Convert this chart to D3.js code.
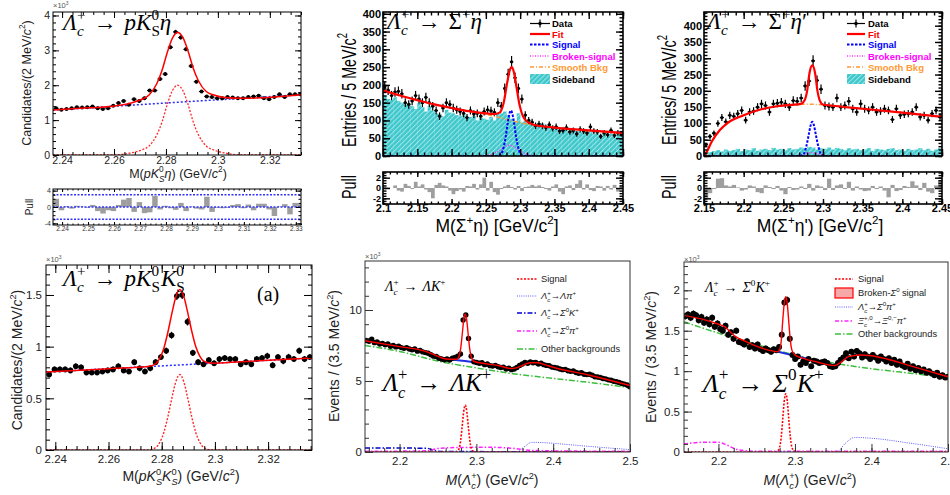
<!DOCTYPE html>
<html>
<head>
<meta charset="utf-8">
<script src="https://cdn.jsdelivr.net/npm/d3@7"></script>
<style>
  body { margin: 0; background: #fff; }
  svg { display: block; background: #fff; }
</style>
</head>
<body>
<svg id="chart" width="950" height="495"></svg>
<script>
// ---------------- data: Λc+ → p K0S η (counts ×10³, 2 MeV bins) ----------------
const pKsEtaLow = 2.2367, pKsEtaBin = 0.002;
const pKsEtaCounts = [1.34,1.30,1.32,1.34,1.37,1.36,1.37,1.39,1.34,1.32,1.34,1.41,1.49,1.55,1.44,1.60,1.55,1.63,1.85,1.85,2.18,2.32,3.09,3.53,3.37,3.03,2.55,2.10,1.82,1.68,1.66,1.63,1.63,1.66,1.65,1.63,1.63,1.66,1.68,1.70,1.63,1.60,1.66,1.74,1.66,1.74,1.74,1.74];
const pKsEtaPull = [2.0,-0.8,0.2,-0.4,0.3,0.1,-0.2,0.5,-1.0,-1.6,-0.8,-1.0,0.5,1.8,2.2,-1.2,1.2,-1.5,-1.3,2.7,-0.6,0.3,-0.3,-0.7,1.0,-1.0,0.1,-0.4,-0.6,2.5,-1.2,-0.2,-0.3,-0.2,0.5,0.7,-0.3,0.6,-0.8,0.8,0.8,-0.6,-2.2,0.1,0.7,-1.8,1.0,0.7];
const pKsEtaFit = [[2.2365,1.29],[2.25,1.352],[2.2595,1.396],[2.2665,1.49],[2.2705,1.59],[2.2735,1.72],[2.2765,2.05],[2.2785,2.43],[2.2805,2.94],[2.2825,3.35],[2.2845,3.51],[2.2865,3.37],[2.2885,2.98],[2.2905,2.49],[2.2925,2.13],[2.2955,1.82],[2.2985,1.72],[2.3025,1.65],[2.3095,1.626],[2.332,1.73]];
const pKsEtaBkg = [[2.2365,1.29],[2.332,1.73]];
const pKsEtaSig = [[2.2365,0],[2.2595,0],[2.2665,0.06],[2.2705,0.14],[2.2735,0.26],[2.2765,0.58],[2.2785,0.95],[2.2805,1.45],[2.2825,1.85],[2.2845,2.0],[2.2865,1.85],[2.2885,1.45],[2.2905,0.95],[2.2925,0.58],[2.2955,0.26],[2.2985,0.14],[2.3025,0.06],[2.3095,0],[2.332,0]];
const pKsEtaXTicks = [2.24,2.26,2.28,2.30,2.32], pKsEtaXLabels = ['2.24','2.26','2.28','2.3','2.32'];
const pKsEtaYTicks = [0,1,2,3,4], pKsEtaYLabels = ['0','1','2','3','4'];
const pullAXTicks = [2.24,2.25,2.26,2.27,2.28,2.29,2.30,2.31,2.32,2.33];
const pullAXLabels = ['2.24','2.25','2.26','2.27','2.28','2.29','2.3','2.31','2.32','2.33'];
const pullAYTicks = [-4,0,4], pullAYLabels = ['-4','0','4'];
const pullALines = [-3,0,3];

// ---------------- data: Λc+ → Σ+ η (entries, 5 MeV bins) ----------------
const sigEtaLow = 2.1, sigEtaBin = 0.005;
const sigEtaCounts = [195,185,170,180,182,175,150,145,155,170,160,150,165,150,140,128,112,135,150,145,135,130,125,120,108,128,118,120,112,125,130,127,123,150,140,190,230,265,220,190,160,115,100,95,85,90,85,80,88,78,82,70,72,80,68,72,62,75,70,65,82,70,68,55,65,60,72,58,65,62];
const sigEtaSideband = [172,160,158,165,155,150,145,148,140,132,150,138,125,140,128,120,118,112,130,122,120,115,112,118,105,110,112,100,108,105,102,110,100,118,120,125,115,105,98,120,95,100,92,88,90,85,92,80,85,78,82,75,80,76,72,78,70,68,72,65,70,62,66,60,64,58,62,55,60,58];
const sigEtaPull = [0.3,0.1,0,0.5,-0.5,-0.7,0.8,0.4,-0.2,1.2,0.3,0.7,-0.3,-0.8,-2.0,0.6,1.0,0.5,0.3,-0.5,-1.2,-0.6,-0.3,-0.7,0.4,0.3,0.8,-0.3,0.7,2.0,-0.5,1.2,-0.8,-1.3,-0.2,0.3,0.6,0.2,-0.3,0.4,-0.6,0.2,0.3,0.6,0.3,0.5,0.2,-0.2,-0.5,0.3,0.7,-0.7,-1.2,0.3,0.5,-0.4,0.8,1.5,-0.3,0.7,-0.4,-0.6,0.4,0.3,-0.5,0.4,-0.3,0.6,-0.7,0.5];
const sigEtaFit = [[2.1,185],[2.125,170],[2.15,157],[2.175,145],[2.2,135],[2.225,126],[2.25,120],[2.262,118],[2.27,122],[2.276,150],[2.281,205],[2.2855,245],[2.288,250],[2.291,235],[2.295,190],[2.299,145],[2.304,112],[2.31,97],[2.32,88],[2.35,80],[2.4,72],[2.45,65]];
const sigEtaSmooth = [[2.1,185],[2.15,157],[2.2,135],[2.25,117],[2.27,108],[2.29,98],[2.31,90],[2.33,84],[2.35,79],[2.4,71],[2.45,64]];
const sigEtaSignal = [[2.1,0],[2.265,0],[2.272,5],[2.276,25],[2.279,55],[2.282,95],[2.2845,120],[2.2865,128],[2.2885,120],[2.291,95],[2.294,55],[2.297,25],[2.301,5],[2.308,0],[2.45,0]];
const sigEtaBroken = [[2.1,0],[2.24,0],[2.255,3],[2.265,10],[2.275,22],[2.283,30],[2.29,27],[2.298,17],[2.308,6],[2.318,1],[2.33,0],[2.45,0]];
const sigEtaXTicks = [2.1,2.15,2.2,2.25,2.3,2.35,2.4,2.45];
const sigEtaXLabels = ['2.1','2.15','2.2','2.25','2.3','2.35','2.4','2.45'];

// ---------------- data: Λc+ → Σ+ η′ (entries, 5 MeV bins) ----------------
const sigEtapLow = 2.15, sigEtapBin = 0.005;
const sigEtapCounts = [35,60,70,100,118,105,125,122,130,140,110,135,138,150,160,155,135,160,162,165,160,150,170,168,178,215,230,292,232,205,155,152,150,178,150,155,168,145,135,160,145,140,150,135,138,145,140,112,145,125,128,130,135,150,120,125,110,130,140,120];
const sigEtapSideband = [8,12,15,18,14,20,16,18,22,15,20,18,24,16,20,22,18,25,20,22,18,24,20,22,26,24,28,26,20,24,22,26,20,25,22,18,24,20,22,18,20,24,16,22,20,18,22,24,18,20,16,22,18,20,24,18,22,16,20,24];
const sigEtapPull = [-2.0,-1.0,-0.2,1.8,1.9,0.5,0.3,0.6,0.1,-0.5,-0.3,0.5,0.3,-0.8,-1.0,0.5,0.2,-0.2,0.4,-0.5,-1.2,0.2,-0.4,-0.3,0.3,-0.2,0.8,-0.5,0.5,0.3,-0.4,1.8,-0.4,0.5,0.7,-0.2,1.2,-0.5,0.3,-0.3,-0.6,-0.5,0.4,-0.2,0.3,-0.5,-1.8,0.6,-0.6,-0.4,0.4,0.2,1.3,0.5,-0.4,1.0,-0.7,-1.0,0.5,1.5];
const sigEtapFit = [[2.151,0],[2.155,20],[2.16,45],[2.17,80],[2.18,102],[2.2,125],[2.22,142],[2.24,152],[2.26,157],[2.272,160],[2.277,172],[2.28,200],[2.283,255],[2.2865,278],[2.29,255],[2.293,200],[2.296,170],[2.3,158],[2.31,155],[2.35,145],[2.4,133],[2.45,120]];
const sigEtapSmooth = [[2.151,0],[2.155,20],[2.16,45],[2.17,80],[2.18,102],[2.2,125],[2.22,142],[2.24,152],[2.26,157],[2.28,159],[2.3,157],[2.35,145],[2.4,133],[2.45,120]];
const sigEtapSignal = [[2.15,0],[2.27,0],[2.276,8],[2.279,30],[2.282,65],[2.2845,95],[2.2865,105],[2.2885,95],[2.291,65],[2.294,30],[2.297,8],[2.303,0],[2.45,0]];
const sigEtapBroken = [[2.15,0],[2.26,0],[2.275,5],[2.285,10],[2.295,6],[2.31,0],[2.45,0]];
const sigEtapXTicks = [2.15,2.2,2.25,2.3,2.35,2.4,2.45];
const sigEtapXLabels = ['2.15','2.2','2.25','2.3','2.35','2.4','2.45'];
const entriesYTicks = [0,50,100,150,200,250,300,350,400];
const entriesYLabels = ['0','50','100','150','200','250','300','350','400'];
const pullYTicks = [-2,0,2], pullYLabels = ['-2','0','2'];

// ---------------- data: Λc+ → p K0S K0S (counts ×10³, 2 MeV bins) ----------------
const pKsKsLow = 2.2367, pKsKsBin = 0.002;
const pKsKsCounts = [0.73,0.78,0.78,0.78,0.77,0.81,0.80,0.75,0.75,0.75,0.76,0.77,0.78,0.81,0.77,0.76,0.85,0.79,0.76,0.79,0.85,0.90,0.96,1.11,1.49,1.50,1.24,0.94,0.85,0.83,0.87,0.84,0.88,0.89,0.88,0.88,0.83,0.85,0.83,0.88,0.89,0.91,0.82,0.90,0.86,0.90,0.88,0.96,0.88,0.90];
const pKsKsFit = [[2.2365,0.755],[2.26,0.787],[2.2748,0.807],[2.2778,0.836],[2.2793,0.888],[2.2808,0.985],[2.2823,1.137],[2.2838,1.319],[2.2853,1.481],[2.2868,1.553],[2.2883,1.485],[2.2898,1.327],[2.2913,1.149],[2.2928,1.001],[2.2943,0.908],[2.2958,0.86],[2.2988,0.839],[2.31,0.854],[2.3365,0.89]];
const pKsKsBkg = [[2.2365,0.755],[2.3365,0.89]];
const pKsKsSig = [[2.2365,0],[2.2748,0],[2.2778,0.025],[2.2793,0.075],[2.2808,0.17],[2.2823,0.32],[2.2838,0.50],[2.2853,0.66],[2.2868,0.73],[2.2883,0.66],[2.2898,0.50],[2.2913,0.32],[2.2928,0.17],[2.2943,0.075],[2.2958,0.025],[2.2988,0],[2.3365,0]];
const pKsKsYTicks = [0,0.5,1,1.5], pKsKsYLabels = ['0','0.5','1','1.5'];

// ---------------- data: Λc+ → Λ K+ (events ×10³, 3.5 MeV bins) ----------------
const lamKLow = 2.155, lamKBin = 0.0035;
const lamKCounts = [7.85,7.80,7.95,7.70,7.75,7.60,7.65,7.55,7.60,7.45,7.50,7.40,7.45,7.35,7.30,7.35,7.25,7.20,7.25,7.10,7.15,7.05,7.00,6.95,6.85,6.75,6.72,6.60,6.55,6.50,6.55,6.48,6.60,6.65,6.75,6.9,9.3,9.65,8.0,6.75,6.35,6.30,6.25,6.28,6.15,6.20,6.08,6.05,6.10,6.0,5.95,5.98,5.85,5.90,5.80,5.85,5.95,6.1,6.2,6.3,6.25,6.35,6.28,6.3,6.2,6.25,6.15,6.1,6.08,5.98,5.95,5.92,5.85,5.80,5.82,5.72,5.68,5.70,5.60,5.55,5.58,5.48,5.45,5.48,5.40,5.30,5.28,5.25,5.18,5.15,5.08,5.05,4.98,4.95,4.90,4.82,4.78,4.72,4.60];
const lamKFit = [[2.155,7.83],[2.2,7.42],[2.235,7.07],[2.245,6.85],[2.255,6.62],[2.265,6.53],[2.2745,6.53],[2.2775,6.76],[2.2795,7.26],[2.2815,8.24],[2.2835,9.29],[2.2855,9.73],[2.2875,9.27],[2.2895,8.19],[2.2915,7.19],[2.2935,6.65],[2.2965,6.39],[2.31,6.23],[2.33,6.07],[2.345,5.88],[2.352,5.92],[2.36,6.1],[2.37,6.28],[2.38,6.28],[2.39,6.13],[2.4,5.97],[2.45,5.37],[2.5,4.68]];
const lamKTotBkg = [[2.255,6.6],[2.27,6.5],[2.29,6.38],[2.31,6.22],[2.33,6.07]];
const lamKSignal = [[2.155,0],[2.2745,0],[2.2775,0.25],[2.2795,0.8],[2.2815,1.8],[2.2835,2.85],[2.2855,3.3],[2.2875,2.85],[2.2895,1.8],[2.2915,0.8],[2.2935,0.25],[2.2965,0.03],[2.301,0],[2.5,0]];
const lamKLamPi = [[2.155,0],[2.352,0],[2.362,0.35],[2.372,0.68],[2.39,0.65],[2.42,0.52],[2.45,0.38],[2.48,0.25],[2.5,0.17]];
const lamKSig0K = [[2.155,0.28],[2.235,0.27],[2.245,0.1],[2.26,0.03],[2.5,0.02]];
const lamKSig0Pi = [[2.155,0.05],[2.235,0.08],[2.25,0.25],[2.28,0.32],[2.32,0.33],[2.35,0.25],[2.37,0.12],[2.4,0.08],[2.5,0.05]];
const lamKOther = [[2.155,7.5],[2.2,7.08],[2.25,6.4],[2.3,5.92],[2.35,5.5],[2.4,5.18],[2.45,4.88],[2.5,4.53]];
const lamKYTicks = [0,5,10], lamKYLabels = ['0','5','10'];

// ---------------- data: Λc+ → Σ0 K+ (events ×10³, 3.5 MeV bins) ----------------
const sig0KLow = 2.155, sig0KBin = 0.0035;
const sig0KCounts = [1.68,1.70,1.66,1.71,1.69,1.63,1.67,1.60,1.64,1.58,1.66,1.55,1.59,1.52,1.50,1.56,1.45,1.48,1.40,1.50,1.36,1.35,1.33,1.37,1.30,1.32,1.28,1.33,1.27,1.25,1.28,1.26,1.24,1.27,1.26,1.30,1.45,1.85,1.88,1.40,1.20,1.15,1.18,1.08,1.12,1.10,1.15,1.06,1.13,1.12,1.10,1.11,1.12,1.10,1.06,1.05,1.06,1.10,1.14,1.17,1.22,1.16,1.24,1.18,1.25,1.22,1.17,1.21,1.18,1.15,1.20,1.17,1.13,1.18,1.15,1.12,1.16,1.10,1.14,1.08,1.12,1.07,1.05,1.09,1.03,1.06,1.01,1.04,1.00,1.02,0.98,1.00,0.97,0.95,0.98,0.93,0.95,0.92,0.93];
const sig0KFit = [[2.155,1.69],[2.18,1.64],[2.2,1.58],[2.208,1.55],[2.215,1.49],[2.222,1.43],[2.235,1.37],[2.255,1.29],[2.27,1.25],[2.277,1.24],[2.28,1.27],[2.282,1.37],[2.284,1.62],[2.286,1.84],[2.288,1.92],[2.29,1.83],[2.292,1.6],[2.294,1.38],[2.296,1.26],[2.3,1.2],[2.31,1.16],[2.33,1.11],[2.352,1.07],[2.36,1.11],[2.37,1.18],[2.385,1.2],[2.4,1.19],[2.42,1.15],[2.46,1.04],[2.5,0.93]];
const sig0KTotBkg = [[2.255,1.29],[2.3,1.19],[2.352,1.07]];
const sig0KSignal = [[2.155,0],[2.273,0],[2.277,0.01],[2.28,0.06],[2.282,0.18],[2.284,0.4],[2.286,0.63],[2.288,0.72],[2.29,0.63],[2.292,0.4],[2.294,0.18],[2.296,0.06],[2.299,0.01],[2.303,0],[2.5,0]];
const sig0KSig0Pi = [[2.155,0],[2.355,0],[2.365,0.1],[2.378,0.18],[2.4,0.17],[2.45,0.11],[2.5,0.04]];
const sig0KXic = [[2.155,0.1],[2.18,0.12],[2.2,0.12],[2.21,0.09],[2.225,0.03],[2.25,0.01],[2.5,0.01]];
const sig0KOther = [[2.155,1.61],[2.2,1.47],[2.25,1.33],[2.3,1.2],[2.35,1.1],[2.4,1.03],[2.45,0.975],[2.5,0.92]];
const sig0KYTicks = [0,0.5,1,1.5,2], sig0KYLabels = ['0','0.5','1','1.5','2'];
const lamXTicks = [2.2,2.3,2.4,2.5], lamXLabels = ['2.2','2.3','2.4','2.5'];

// ---------------- drawing helpers ----------------
const SANS = "'Liberation Sans', Arial, Helvetica, sans-serif";
const SERIF = "'Liberation Serif', 'Times New Roman', serif";
const svg = d3.select('#chart');
const defs = svg.append('defs');
let clipCount = 0;

const hatch = defs.append('pattern').attr('id', 'hatch').attr('patternUnits', 'userSpaceOnUse')
  .attr('width', 3.5).attr('height', 3.5).attr('patternTransform', 'rotate(45)');
hatch.append('rect').attr('width', 3.5).attr('height', 3.5).attr('fill', '#3fc7cc');
hatch.append('line').attr('x1', 0.5).attr('y1', 0).attr('x2', 0.5).attr('y2', 3.5)
  .attr('stroke', '#9be6e6').attr('stroke-width', 1);

function panel(box, xd, yd) {
  const [x0, y0, x1, y1] = box;
  const sx = d3.scaleLinear().domain(xd).range([x0, x1]);
  const sy = d3.scaleLinear().domain(yd).range([y1, y0]);
  const id = 'clip' + (clipCount++);
  defs.append('clipPath').attr('id', id).append('rect')
    .attr('x', x0).attr('y', y0).attr('width', x1 - x0).attr('height', y1 - y0);
  const g = svg.append('g');
  const plot = g.append('g').attr('clip-path', `url(#${id})`);
  const over = g.append('g');
  return { g, plot, over, sx, sy, x0, y0, x1, y1 };
}

function centers(low, w, n) { return d3.range(n).map(i => low + (i + 0.5) * w); }

function minorVals(dom, step) {
  const lo = Math.ceil(dom[0] / step - 1e-6), hi = Math.floor(dom[1] / step + 1e-6);
  return d3.range(lo, hi + 1).map(k => +(k * step).toFixed(6));
}

function axes(p, o) {
  const stroke = o.stroke || '#000', sw = o.sw || 1;
  const specs = [
    ['x', d3.axisBottom, p.y1, d3.axisTop, p.y0, p.sx],
    ['y', d3.axisLeft, p.x0, d3.axisRight, p.x1, p.sy]
  ];
  for (const [k, mk, pos, mkM, posM, sc] of specs) {
    const s = o[k];
    if (!s) continue;
    const tr = v => k === 'x' ? `translate(0,${v})` : `translate(${v},0)`;
    const groups = [];
    const main = p.over.append('g').attr('transform', tr(pos))
      .call(mk(sc).tickValues(s.maj).tickSize(-s.len).tickPadding(s.pad || 3)
        .tickFormat((d, i) => s.labels ? s.labels[i] : ''));
    groups.push(main);
    groups.push(p.over.append('g').attr('transform', tr(pos))
      .call(mk(sc).tickValues(minorVals(sc.domain(), s.step)).tickSize(-s.mlen).tickFormat('')));
    if (o.mirror) {
      groups.push(p.over.append('g').attr('transform', tr(posM))
        .call(mkM(sc).tickValues(s.maj).tickSize(-s.len).tickFormat('')));
      groups.push(p.over.append('g').attr('transform', tr(posM))
        .call(mkM(sc).tickValues(minorVals(sc.domain(), s.step)).tickSize(-s.mlen).tickFormat('')));
    }
    groups.forEach(gg => {
      gg.select('.domain').remove();
      gg.selectAll('line').attr('stroke', stroke).attr('stroke-width', sw);
    });
    main.selectAll('text').attr('font-family', SANS).attr('font-size', s.size)
      .attr('font-weight', s.weight || 'normal').attr('fill', s.fill || '#000');
  }
  p.over.append('rect').attr('x', p.x0).attr('y', p.y0)
    .attr('width', p.x1 - p.x0).attr('height', p.y1 - p.y0)
    .attr('fill', 'none').attr('stroke', stroke).attr('stroke-width', o.fw || sw);
}

function curve(p, pts, o) {
  p.plot.append('path').datum(pts)
    .attr('d', d3.line().x(d => p.sx(d[0])).y(d => p.sy(d[1])).curve(d3.curveMonotoneX))
    .attr('fill', 'none').attr('stroke', o.c).attr('stroke-width', o.w)
    .attr('stroke-dasharray', o.dash || null);
}

function drawData(p, xs, ys, o) {
  const gd = p.plot.append('g').attr('stroke', '#000').attr('stroke-width', o.sw || 1);
  xs.forEach((x, i) => {
    const y = ys[i], e = o.err[i];
    gd.append('line').attr('x1', p.sx(x)).attr('x2', p.sx(x)).attr('y1', p.sy(y - e)).attr('y2', p.sy(y + e));
    if (o.halfW) gd.append('line').attr('x1', p.sx(x - o.halfW)).attr('x2', p.sx(x + o.halfW))
      .attr('y1', p.sy(y)).attr('y2', p.sy(y));
  });
  p.plot.append('g').selectAll('circle').data(xs).join('circle')
    .attr('cx', d => p.sx(d)).attr('cy', (d, i) => p.sy(ys[i])).attr('r', o.r).attr('fill', '#000');
}

function bars(p, low, w, vals, fill) {
  p.plot.append('g').selectAll('rect').data(vals).join('rect')
    .attr('x', (d, i) => p.sx(low + i * w))
    .attr('width', (d, i) => p.sx(low + (i + 1) * w) - p.sx(low + i * w) + 0.3)
    .attr('y', d => Math.min(p.sy(d), p.sy(0)))
    .attr('height', d => Math.abs(p.sy(d) - p.sy(0)))
    .attr('fill', fill);
}

// text built from pieces: plain strings, {t, i} runs, {sup, sub} script stacks, {gap} spacing (em)
function rich(parent, parts, o) {
  const size = o.size, fam = o.family || SANS;
  const g = parent.append('g');
  const inner = g.append('g');
  let cx = 0;
  const put = (t, x, y, sz, it) => {
    const el = inner.append('text').attr('x', x).attr('y', y).text(t)
      .attr('font-family', fam).attr('font-size', sz)
      .attr('font-style', it ? 'italic' : 'normal')
      .attr('font-weight', o.weight || 'normal')
      .attr('fill', o.fill || '#000');
    return el.node().getComputedTextLength();
  };
  for (const p of parts) {
    if (typeof p === 'string') cx += put(p, cx, 0, size, o.italic);
    else if (p.gap !== undefined) cx += p.gap * size;
    else if (p.t !== undefined) cx += put(p.t, cx, 0, size, p.i);
    else {
      const ss = size * 0.66;
      let w = 0;
      if (p.sup !== undefined) w = Math.max(w, put(p.sup, cx, -size * 0.45, ss, p.supi));
      if (p.sub !== undefined) w = Math.max(w, put(p.sub, cx, size * 0.28, ss, p.si));
      cx += w;
    }
  }
  const shift = o.anchor === 'middle' ? -cx / 2 : o.anchor === 'end' ? -cx : 0;
  inner.attr('transform', `translate(${shift},0)`);
  g.attr('transform', `translate(${o.x},${o.y})` + (o.rot ? ` rotate(${o.rot})` : '') +
    (o.stretch ? ` scale(${o.stretch},1)` : ''));
  return cx;
}

const LcPlus = [{ t: 'Λ', i: 1 }, { sub: 'c', si: 1, sup: '+' }];
const arrow = [{ gap: 0.35 }, { t: '→' }, { gap: 0.35 }];
const times1000 = [{ t: '×10' }, { sup: '3' }];
const GREY = '#9e9e9e';

// ================= top left: pK0S η =================
const pA = panel([53, 12, 301, 155], [2.2365, 2.332], [0, 4.1]);
curve(pA, pKsEtaBkg, { c: '#2a2aff', w: 1.5, dash: '2,2' });
curve(pA, pKsEtaSig, { c: '#ff2a2a', w: 1.3, dash: '2,1.6' });
drawData(pA, centers(pKsEtaLow, pKsEtaBin, pKsEtaCounts.length), pKsEtaCounts,
  { r: 2, halfW: pKsEtaBin / 2, err: pKsEtaCounts.map(v => Math.sqrt(v * 1000) / 1000) });
curve(pA, pKsEtaFit, { c: '#ff0000', w: 1.5 });
axes(pA, {
  mirror: true,
  x: { maj: pKsEtaXTicks, labels: pKsEtaXLabels, step: 0.004, len: 6, mlen: 3, pad: 2, size: 10.5, fill: '#222' },
  y: { maj: pKsEtaYTicks, labels: pKsEtaYLabels, step: 0.2, len: 6, mlen: 3, pad: 3, size: 10.5, fill: '#222' }
});
rich(svg, times1000, { x: 53, y: 8, size: 7.5, fill: '#555' });
rich(svg, [...LcPlus, ...arrow, { t: 'pK', i: 1 }, { sup: '0', sub: 'S' }, { t: 'η', i: 1 }],
  { x: 63, y: 30, size: 23, family: SERIF });
rich(svg, ['M(', { t: 'pK', i: 1 }, { sup: '0', sub: 'S', si: 1 }, { t: 'η', i: 1 }, ')', { gap: 0.28 }, '(GeV/', { t: 'c', i: 1 }, { sup: '2' }, ')'],
  { x: 178, y: 178, size: 12.5, anchor: 'middle', fill: '#222' });
rich(svg, ['Candidates/(2 MeV/', { t: 'c', i: 1 }, { sup: '2' }, ')'],
  { x: 31, y: 83, size: 12.5, anchor: 'middle', rot: -90, fill: '#222' });

const pAP = panel([53, 189, 301, 225], [2.2365, 2.332], [-4.4, 4.4]);
bars(pAP, pKsEtaLow, pKsEtaBin, pKsEtaPull, GREY);
pullALines.forEach(v => curve(pAP, [[2.2365, v], [2.332, v]], { c: '#3333ff', w: 1.5, dash: '2,1.5' }));
axes(pAP, {
  mirror: true,
  x: { maj: pullAXTicks, labels: pullAXLabels, step: 0.002, len: 3, mlen: 1.5, pad: 1.5, size: 6.5, fill: '#333' },
  y: { maj: pullAYTicks, labels: pullAYLabels, step: 1, len: 5, mlen: 2.5, pad: 2, size: 7, fill: '#333' }
});
rich(svg, ['Pull'], { x: 33, y: 207, size: 10, anchor: 'middle', rot: -90, fill: '#222' });

// ================= Σ+ η and Σ+ η′ panels with pulls =================
function topPanel(cfg) {
  const p = panel(cfg.box, cfg.xd, cfg.yd);
  bars(p, cfg.low, cfg.bin, cfg.side, 'url(#hatch)');
  drawData(p, centers(cfg.low, cfg.bin, cfg.counts.length), cfg.counts,
    { r: 1.6, halfW: cfg.bin / 2, err: cfg.counts.map(v => Math.sqrt(v)), sw: 1.2 });
  curve(p, cfg.smooth, { c: '#ff9933', w: 1.5, dash: '4,2,1,2' });
  curve(p, cfg.broken, { c: '#ff33ff', w: 1.5, dash: '1,1.5' });
  curve(p, cfg.signal, { c: '#0000ff', w: 2, dash: '2.5,1.5' });
  curve(p, cfg.fit, { c: '#ff0000', w: 2.2 });
  axes(p, {
    mirror: true, sw: 1.4, fw: 1.6,
    x: { maj: cfg.xTicks, labels: null, step: 0.01, len: 7, mlen: 3.5 },
    y: { maj: entriesYTicks, labels: entriesYLabels, step: 10, len: 7, mlen: 3.5, pad: 2, size: 11, weight: 'bold' }
  });
  const pp = panel(cfg.pbox, cfg.xd, [-3.1, 3.1]);
  bars(pp, cfg.low, cfg.bin, cfg.pull, GREY);
  axes(pp, {
    mirror: true, sw: 1.4, fw: 1.6,
    x: { maj: cfg.xTicks, labels: cfg.xLabels, step: 0.01, len: 5, mlen: 2.5, pad: 0.6, size: 11, weight: 'bold' },
    y: { maj: pullYTicks, labels: pullYLabels, step: 0.5, len: 7, mlen: 3.5, pad: 2, size: 9, weight: 'bold' }
  });
  rich(svg, cfg.title, { x: cfg.titleX, y: 29, size: 23, family: SERIF });
  rich(svg, cfg.xTitle, { x: cfg.xTitleX, y: 231.5, size: 17.5, anchor: 'middle' });
  rich(svg, cfg.yTitle, { x: cfg.yTitleX, y: 90, size: 21, anchor: 'middle', rot: -90, stretch: 0.68 });
  rich(svg, ['Pull'], { x: cfg.yTitleX, y: 187, size: 21, anchor: 'middle', rot: -90, stretch: 0.68 });
  // legend
  const L = cfg.leg, rows = [23.5, 34, 44.5, 56, 67, 79];
  const lg = svg.append('g');
  lg.append('line').attr('x1', L[0]).attr('x2', L[1]).attr('y1', rows[0]).attr('y2', rows[0]).attr('stroke', '#000').attr('stroke-width', 1.2);
  lg.append('line').attr('x1', (L[0] + L[1]) / 2).attr('x2', (L[0] + L[1]) / 2).attr('y1', rows[0] - 4).attr('y2', rows[0] + 4).attr('stroke', '#000').attr('stroke-width', 1.2);
  lg.append('circle').attr('cx', (L[0] + L[1]) / 2).attr('cy', rows[0]).attr('r', 1.8).attr('fill', '#000');
  const ls = [['#ff0000', 2.2, null], ['#0000ff', 2, '2.5,1.5'], ['#ff33ff', 1.5, '1,1.5'], ['#ff9933', 1.5, '4,2,1,2']];
  ls.forEach((s, k) => lg.append('line').attr('x1', L[0]).attr('x2', L[1]).attr('y1', rows[k + 1]).attr('y2', rows[k + 1])
    .attr('stroke', s[0]).attr('stroke-width', s[1]).attr('stroke-dasharray', s[2]));
  lg.append('rect').attr('x', L[0]).attr('y', rows[5] - 5).attr('width', L[1] - L[0]).attr('height', 10).attr('fill', 'url(#hatch)');
  const names = ['Data', 'Fit', 'Signal', 'Broken-signal', 'Smooth Bkg', 'Sideband'];
  const cols = ['#000', '#ff0000', '#0000ff', '#ff00ff', '#ff9933', '#000'];
  names.forEach((n, k) => lg.append('text').attr('x', L[2]).attr('y', rows[k] + 3.5).text(n)
    .attr('font-family', SANS).attr('font-size', 9.5).attr('font-weight', 'bold').attr('fill', cols[k]));
}

topPanel({
  box: [383, 12, 623, 156], pbox: [383, 172, 623, 204], xd: [2.1, 2.45], yd: [0, 405],
  low: sigEtaLow, bin: sigEtaBin, counts: sigEtaCounts, side: sigEtaSideband, pull: sigEtaPull,
  fit: sigEtaFit, smooth: sigEtaSmooth, signal: sigEtaSignal, broken: sigEtaBroken,
  xTicks: sigEtaXTicks, xLabels: sigEtaXLabels,
  title: [...LcPlus, ...arrow, { t: 'Σ' }, { sup: '+' }, { t: 'η', i: 1 }], titleX: 387,
  xTitle: ['M(Σ', { sup: '+' }, 'η)', { gap: 0.28 }, '[GeV/c', { sup: '2' }, ']'], xTitleX: 497,
  yTitle: ['Entries / 5 MeV/c', { sup: '2' }], yTitleX: 356,
  leg: [530, 550, 552]
});
topPanel({
  box: [704, 12, 942, 156], pbox: [704, 172, 942, 204], xd: [2.15, 2.45], yd: [0, 442],
  low: sigEtapLow, bin: sigEtapBin, counts: sigEtapCounts, side: sigEtapSideband, pull: sigEtapPull,
  fit: sigEtapFit, smooth: sigEtapSmooth, signal: sigEtapSignal, broken: sigEtapBroken,
  xTicks: sigEtapXTicks, xLabels: sigEtapXLabels,
  title: [...LcPlus, ...arrow, { t: 'Σ' }, { sup: '+' }, { t: 'η', i: 1 }, { t: '′' }], titleX: 707,
  xTitle: ['M(Σ', { sup: '+' }, "η')", { gap: 0.28 }, '[GeV/c', { sup: '2' }, ']'], xTitleX: 820,
  yTitle: ['Entries/ 5 MeV/c', { sup: '2' }], yTitleX: 676,
  leg: [847, 865, 868]
});

// ================= bottom left: pK0S K0S =================
const pD = panel([46, 265, 312, 450], [2.2365, 2.3365], [0, 1.79]);
curve(pD, pKsKsBkg, { c: '#2a2aff', w: 1.5, dash: '2,2' });
curve(pD, pKsKsSig, { c: '#ff2a2a', w: 1.4, dash: '2,1.6' });
drawData(pD, centers(pKsKsLow, pKsKsBin, pKsKsCounts.length), pKsKsCounts,
  { r: 2.8, halfW: pKsKsBin / 2, err: pKsKsCounts.map(v => Math.sqrt(v * 1000) / 1000), sw: 1.2 });
curve(pD, pKsKsFit, { c: '#ff0000', w: 1.5 });
axes(pD, {
  mirror: true,
  x: { maj: pKsEtaXTicks, labels: pKsEtaXLabels, step: 0.004, len: 8, mlen: 4, pad: 5, size: 11.5, fill: '#222' },
  y: { maj: pKsKsYTicks, labels: pKsKsYLabels, step: 0.1, len: 8, mlen: 4, pad: 4, size: 11.5, fill: '#222' }
});
rich(svg, times1000, { x: 46, y: 262, size: 7.5, fill: '#555' });
rich(svg, [...LcPlus, ...arrow, { t: 'pK', i: 1 }, { sup: '0', sub: 'S' }, { gap: 0.05 }, { t: 'K', i: 1 }, { sup: '0', sub: 'S' }],
  { x: 63, y: 286, size: 23, family: SERIF });
rich(svg, ['(a)'], { x: 257, y: 301, size: 20, family: SERIF });
rich(svg, ['M(', { t: 'pK', i: 1 }, { sup: '0', sub: 'S', si: 1 }, { t: 'K', i: 1 }, { sup: '0', sub: 'S', si: 1 }, ')', { gap: 0.28 }, '(GeV/', { t: 'c', i: 1 }, { sup: '2' }, ')'],
  { x: 181, y: 481, size: 14, anchor: 'middle', fill: '#222' });
rich(svg, ['Candidates/(2 MeV/', { t: 'c', i: 1 }, { sup: '2' }, ')'],
  { x: 22, y: 360, size: 14, anchor: 'middle', rot: -90, fill: '#222' });

// ================= bottom middle / right: Λ K+ and Σ0 K+ =================
function legendRows(x0, x1, tx, rows, items) {
  const lg = svg.append('g');
  items.forEach((it, k) => {
    const y = rows[k];
    if (it.box) {
      lg.append('rect').attr('x', x0).attr('y', y - 5).attr('width', x1 - x0).attr('height', 10)
        .attr('fill', '#f7a8a8').attr('stroke', '#ff0000').attr('stroke-width', 1.2);
    } else {
      lg.append('line').attr('x1', x0).attr('x2', x1).attr('y1', y).attr('y2', y)
        .attr('stroke', it.c).attr('stroke-width', it.w).attr('stroke-dasharray', it.dash);
    }
    rich(lg, it.label, { x: tx, y: y + 3.3, size: 9.3, fill: '#222' });
  });
}
const LcSmall = [{ t: 'Λ', i: 1 }, { sub: 'c', si: 1, sup: '+' }];
const ST = {
  signal: { c: '#ff0000', w: 1.6, dash: '2,1.5' },
  blueDot: { c: '#5d5dff', w: 1, dash: '1,1.2' },
  blueDashDot: { c: '#0000d0', w: 1.5, dash: '5,2,1.5,2' },
  magenta: { c: '#ff22ff', w: 1.5, dash: '4,2,1.5,2' },
  green: { c: '#3cbf3c', w: 1.5, dash: '6,2,1.5,2' }
};

const pE = panel([365, 261, 630, 452], [2.155, 2.5], [0, 13.45]);
curve(pE, lamKOther, ST.green);
curve(pE, lamKSig0K, ST.blueDashDot);
curve(pE, lamKSig0Pi, ST.magenta);
curve(pE, lamKLamPi, ST.blueDot);
curve(pE, lamKSignal, ST.signal);
curve(pE, lamKTotBkg, { c: '#1f2fe0', w: 2 });
drawData(pE, centers(lamKLow, lamKBin, lamKCounts.length), lamKCounts,
  { r: 2.7, err: lamKCounts.map(v => Math.sqrt(v * 1000) / 1000) });
curve(pE, lamKFit, { c: '#ff0000', w: 1.4 });
axes(pE, {
  stroke: '#333',
  x: { maj: lamXTicks, labels: lamXLabels, step: 0.02, len: 8, mlen: 4, pad: 5, size: 11.5, fill: '#222' },
  y: { maj: lamKYTicks, labels: lamKYLabels, step: 1, len: 8, mlen: 4, pad: 3, size: 11.5, fill: '#222' }
});
rich(svg, times1000, { x: 365, y: 259, size: 7.5, fill: '#555' });
rich(svg, [...LcPlus, ...arrow, { t: 'ΛK', i: 1 }, { sup: '+' }], { x: 385, y: 291, size: 14, family: SERIF });
rich(svg, [...LcPlus, ...arrow, { t: 'ΛK', i: 1 }, { sup: '+' }], { x: 383, y: 391, size: 25, family: SERIF });
rich(svg, [{ t: 'M', i: 1 }, '(', { t: 'Λ', i: 1 }, { sub: 'c', si: 1, sup: '+' }, ')', { gap: 0.28 }, '(GeV/', { t: 'c', i: 1 }, { sup: '2' }, ')'],
  { x: 492, y: 485, size: 14, anchor: 'middle', fill: '#222' });
rich(svg, ['Events / (3.5 MeV/', { t: 'c', i: 1 }, { sup: '2' }, ')'],
  { x: 339, y: 356, size: 14, anchor: 'middle', rot: -90, fill: '#222' });
legendRows(517, 537, 541, [279, 296, 313, 331, 349], [
  { ...ST.signal, label: ['Signal'] },
  { ...ST.blueDot, label: [...LcSmall, '→', { t: 'Λπ', i: 1 }, { sup: '+' }] },
  { ...ST.blueDashDot, label: [...LcSmall, '→', { t: 'Σ', i: 1 }, { sup: '0' }, { t: 'K', i: 1 }, { sup: '+' }] },
  { ...ST.magenta, label: [...LcSmall, '→', { t: 'Σ', i: 1 }, { sup: '0' }, { t: 'π', i: 1 }, { sup: '+' }] },
  { ...ST.green, label: ['Other backgrounds'] }
]);

const pF = panel([684, 262, 948, 452], [2.155, 2.5], [0, 2.35]);
curve(pF, sig0KOther, ST.green);
curve(pF, sig0KXic, ST.magenta);
curve(pF, sig0KSig0Pi, ST.blueDot);
curve(pF, sig0KSignal, ST.signal);
curve(pF, sig0KTotBkg, { c: '#1f2fe0', w: 2 });
drawData(pF, centers(sig0KLow, sig0KBin, sig0KCounts.length), sig0KCounts,
  { r: 3, err: sig0KCounts.map(v => Math.sqrt(v * 1000) / 1000) });
curve(pF, sig0KFit, { c: '#ff0000', w: 1.4 });
axes(pF, {
  stroke: '#333',
  x: { maj: lamXTicks, labels: lamXLabels, step: 0.02, len: 8, mlen: 4, pad: 5, size: 11.5, fill: '#222' },
  y: { maj: sig0KYTicks, labels: sig0KYLabels, step: 0.1, len: 8, mlen: 4, pad: 4, size: 11.5, fill: '#222' }
});
rich(svg, times1000, { x: 684, y: 262, size: 7.5, fill: '#555' });
rich(svg, [...LcPlus, ...arrow, { t: 'Σ', i: 1 }, { sup: '0' }, { t: 'K', i: 1 }, { sup: '+' }], { x: 705, y: 292, size: 14, family: SERIF });
rich(svg, [...LcPlus, ...arrow, { t: 'Σ', i: 1 }, { sup: '0' }, { t: 'K', i: 1 }, { sup: '+' }], { x: 703, y: 392, size: 26, family: SERIF });
rich(svg, [{ t: 'M', i: 1 }, '(', { t: 'Λ', i: 1 }, { sub: 'c', si: 1, sup: '+' }, ')', { gap: 0.28 }, '(GeV/', { t: 'c', i: 1 }, { sup: '2' }, ')'],
  { x: 810, y: 485, size: 14, anchor: 'middle', fill: '#222' });
rich(svg, ['Events / (3.5 MeV/', { t: 'c', i: 1 }, { sup: '2' }, ')'],
  { x: 656, y: 357, size: 14, anchor: 'middle', rot: -90, fill: '#222' });
legendRows(835, 853, 858, [279, 293, 307, 321, 334], [
  { ...ST.signal, label: ['Signal'] },
  { box: true, label: ['Broken-', { t: 'Σ', i: 1 }, { sup: '0' }, { gap: 0.25 }, 'signal'] },
  { ...ST.blueDot, label: [...LcSmall, '→', { t: 'Σ', i: 1 }, { sup: '0' }, { t: 'π', i: 1 }, { sup: '+' }] },
  { ...ST.magenta, label: [{ t: 'Ξ', i: 1 }, { sub: 'c', si: 1, sup: '+,0' }, '→', { t: 'Ξ', i: 1 }, { sup: '0,−' }, { t: 'π', i: 1 }, { sup: '+' }] },
  { ...ST.green, label: ['Other backgrounds'] }
]);
</script>
</body>
</html>
